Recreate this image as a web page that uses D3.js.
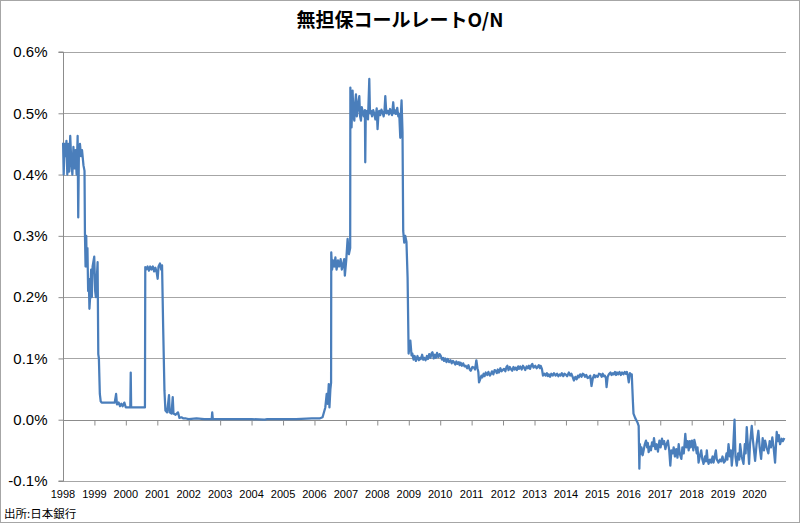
<!DOCTYPE html>
<html><head><meta charset="utf-8">
<script src="https://cdn.jsdelivr.net/npm/d3@7"></script>
<style>
html,body{margin:0;padding:0;background:#fff;}
svg{display:block;}
</style></head>
<body>
<svg id="chart" width="800" height="523"></svg>
<script>
const title = "無担保コールレートO/N";
const sourceNote = "出所:日本銀行";
const yTicks = [-0.1, 0, 0.1, 0.2, 0.3, 0.4, 0.5, 0.6];
const yearLabels = ["1998","1999","2000","2001","2002","2003","2004","2005","2006","2007","2008","2009","2010","2011","2012","2013","2014","2015","2016","2017","2018","2019","2020"];

const dates = [
"1998-01-02","1998-01-09","1998-01-20","1998-02-01","1998-02-10","1998-02-20","1998-03-03","1998-03-15","1998-03-26","1998-04-08","1998-04-20","1998-05-02",
"1998-05-15","1998-05-27","1998-06-08","1998-06-20","1998-06-27","1998-07-05","1998-07-17","1998-07-29","1998-08-10","1998-08-27","1998-09-08","1998-09-13",
"1998-09-20","1998-09-28","1998-10-03","1998-10-12","1998-10-20","1998-10-28","1998-11-04","1998-11-12","1998-11-24","1998-12-02","1998-12-11","1998-12-30",
"1999-01-10","1999-01-18","1999-02-07","1999-02-15","1999-02-22","1999-03-05","1999-03-15","1999-03-26","1999-05-01","1999-07-01","1999-08-25","1999-09-10","1999-09-20","1999-10-10","1999-10-25","1999-11-10","1999-11-25","1999-12-15",
"2000-01-01","2000-02-01","2000-02-22","2000-02-27","2000-03-03","2000-04-15","2000-06-01","2000-07-15","2000-08-10","2000-08-14","2000-08-25","2000-09-10","2000-09-25","2000-10-10","2000-10-25","2000-11-10","2000-11-25","2000-12-10","2000-12-25",
"2001-01-05","2001-01-15","2001-02-01","2001-02-15","2001-02-25","2001-03-10","2001-03-25","2001-04-05","2001-04-25","2001-05-17","2001-05-25","2001-06-15","2001-06-29","2001-07-08","2001-08-01","2001-08-29","2001-09-15","2001-10-08","2001-11-01","2001-12-01",
"2002-01-01","2002-04-01","2002-07-01","2002-09-25","2002-10-01","2002-10-08","2003-03-01","2003-08-01","2004-01-01","2004-06-01","2004-07-01","2005-01-01","2005-06-01","2005-12-01",
"2006-03-01","2006-04-05","2006-05-07","2006-05-23","2006-06-04","2006-06-16","2006-06-24","2006-07-05","2006-07-13","2006-07-15","2006-07-25","2006-08-05","2006-08-20","2006-09-01","2006-09-15","2006-10-01","2006-10-15","2006-11-01","2006-11-15","2006-12-01","2006-12-12","2006-12-20",
"2007-01-05","2007-01-21","2007-02-05","2007-02-20","2007-02-22","2007-03-01","2007-03-08","2007-03-20","2007-03-30","2007-04-09","2007-04-18","2007-04-28","2007-05-08","2007-05-17","2007-05-28","2007-06-06","2007-06-15","2007-06-25","2007-07-05","2007-07-14","2007-07-28","2007-08-10","2007-08-14","2007-08-20","2007-09-03","2007-09-15","2007-09-30","2007-10-08","2007-10-19","2007-11-01","2007-11-15","2007-11-27","2007-12-10","2007-12-25",
"2008-01-04","2008-01-15","2008-01-23","2008-02-05","2008-02-18","2008-03-03","2008-03-15","2008-03-25","2008-04-03","2008-04-15","2008-04-30","2008-05-15","2008-05-28","2008-06-08","2008-06-20","2008-07-04","2008-07-15","2008-07-25","2008-08-05","2008-08-20","2008-09-01","2008-09-12","2008-09-24","2008-10-03","2008-10-09","2008-10-20","2008-10-28","2008-11-09","2008-11-21","2008-12-05","2008-12-18","2008-12-30",
"2009-01-05","2009-01-19","2009-02-02","2009-02-11","2009-02-25","2009-03-10","2009-03-25","2009-04-12","2009-04-28","2009-05-12","2009-05-21","2009-06-05","2009-06-18","2009-06-29","2009-07-15","2009-07-30","2009-08-12","2009-08-26","2009-09-10","2009-09-22","2009-10-03","2009-10-18","2009-11-01","2009-11-11","2009-11-25","2009-12-10","2009-12-25",
"2010-01-08","2010-01-22","2010-02-05","2010-02-15","2010-03-01","2010-03-15","2010-03-30","2010-04-14","2010-05-01","2010-05-15","2010-05-30","2010-06-10","2010-06-25","2010-07-08","2010-07-19","2010-08-05","2010-08-15","2010-08-27","2010-09-10","2010-09-25","2010-10-10","2010-10-25","2010-11-10","2010-11-25","2010-12-10","2010-12-22",
"2011-01-10","2011-01-29","2011-02-10","2011-02-25","2011-03-10","2011-03-20","2011-03-28","2011-04-10","2011-04-25","2011-05-05","2011-05-20","2011-06-01","2011-06-14","2011-07-01","2011-07-15","2011-08-01","2011-08-11","2011-08-25","2011-09-10","2011-09-25","2011-10-08","2011-10-20","2011-11-01","2011-11-15","2011-12-01","2011-12-15",
"2012-01-12","2012-01-28","2012-02-10","2012-02-20","2012-03-05","2012-03-20","2012-04-05","2012-04-17","2012-05-01","2012-05-15","2012-05-26","2012-06-10","2012-06-25","2012-07-04","2012-07-20","2012-08-05","2012-08-20","2012-09-01","2012-09-15","2012-10-01","2012-10-15","2012-10-28","2012-11-10","2012-11-25","2012-12-06","2012-12-20",
"2013-01-10","2013-01-25","2013-02-02","2013-02-20","2013-03-05","2013-03-13","2013-03-28","2013-04-09","2013-04-25","2013-05-10","2013-05-25","2013-06-05","2013-06-17","2013-07-01","2013-07-15","2013-08-01","2013-08-15","2013-09-03","2013-09-20","2013-10-05","2013-10-20","2013-10-31","2013-11-15","2013-12-01","2013-12-15","2013-12-28",
"2014-01-15","2014-02-04","2014-02-20","2014-03-05","2014-03-20","2014-04-03","2014-04-20","2014-05-05","2014-05-20","2014-05-31","2014-06-15","2014-07-01","2014-07-15","2014-07-28","2014-08-10","2014-08-25","2014-09-10","2014-09-24","2014-10-10","2014-10-25","2014-11-10","2014-11-25","2014-12-05","2014-12-18",
"2015-01-05","2015-01-20","2015-02-07","2015-02-20","2015-03-05","2015-03-15","2015-03-29","2015-04-10","2015-04-18","2015-05-01","2015-05-15","2015-06-03","2015-06-15","2015-07-01","2015-07-11","2015-07-25","2015-08-05","2015-08-18","2015-09-01","2015-09-15","2015-10-01","2015-10-15","2015-11-01","2015-11-15","2015-11-30","2015-12-10","2015-12-20",
"2016-01-01","2016-01-15","2016-01-27","2016-02-05","2016-02-12","2016-02-18","2016-02-25","2016-03-15","2016-04-10","2016-04-25","2016-05-03","2016-05-10","2016-05-15","2016-05-28","2016-06-10","2016-06-22","2016-07-05","2016-07-19","2016-08-01","2016-08-10","2016-08-19","2016-09-05","2016-09-15","2016-09-27","2016-10-10","2016-10-20","2016-11-05","2016-11-20","2016-12-05","2016-12-22",
"2017-01-05","2017-01-21","2017-02-05","2017-02-15","2017-03-01","2017-03-15","2017-03-31","2017-04-15","2017-04-28","2017-05-10","2017-05-25","2017-06-06","2017-06-20","2017-07-05","2017-07-20","2017-08-03","2017-08-15","2017-09-03","2017-09-15","2017-10-01","2017-10-10","2017-10-19","2017-11-01","2017-11-15","2017-11-27","2017-12-10","2017-12-20",
"2018-01-04","2018-01-20","2018-02-01","2018-02-12","2018-03-01","2018-03-10","2018-03-22","2018-04-05","2018-04-22","2018-05-05","2018-05-19","2018-06-05","2018-06-15","2018-06-26","2018-07-05","2018-07-16","2018-08-01","2018-08-15","2018-09-01","2018-09-12","2018-09-25","2018-10-09","2018-10-20","2018-11-09","2018-11-25","2018-12-10","2018-12-25",
"2019-01-10","2019-01-26","2019-02-10","2019-02-20","2019-03-05","2019-03-20","2019-04-01","2019-04-12","2019-04-25","2019-05-14","2019-05-25","2019-06-09","2019-06-25","2019-07-08","2019-07-18","2019-08-05","2019-08-26","2019-09-10","2019-09-20","2019-10-03","2019-10-15","2019-10-30","2019-11-10","2019-11-30","2019-12-15",
"2020-01-08","2020-01-25","2020-02-15","2020-03-01","2020-03-18","2020-04-05","2020-04-20","2020-05-03","2020-05-20","2020-06-10","2020-06-25","2020-07-10","2020-07-26","2020-08-10","2020-08-27","2020-09-15","2020-10-01","2020-10-10","2020-10-24","2020-11-12","2020-11-25","2020-12-13"
];
const rates = [
0.452,0.400,0.450,0.430,0.455,0.400,0.450,0.405,0.463,0.420,0.400,0.445,
0.410,0.440,0.400,0.463,0.330,0.440,0.450,0.430,0.440,0.415,0.406,0.303,
0.250,0.300,0.250,0.280,0.210,0.230,0.181,0.200,0.245,0.200,0.250,0.266,
0.210,0.200,0.257,0.107,0.100,0.042,0.030,0.028,0.028,0.028,0.028,0.042,0.025,0.028,0.022,0.026,0.022,0.028,
0.020,0.020,0.020,0.077,0.020,0.020,0.020,0.020,0.020,0.249,0.245,0.250,0.243,0.250,0.245,0.250,0.242,0.248,0.240,
0.230,0.250,0.255,0.245,0.252,0.150,0.047,0.015,0.012,0.040,0.012,0.010,0.037,0.010,0.008,0.012,0.003,0.004,0.002,0.002,
0.001,0.002,0.001,0.001,0.012,0.001,0.001,0.001,0.001,0.000,0.001,0.001,0.001,0.002,
0.002,0.004,0.020,0.042,0.026,0.058,0.020,0.050,0.060,0.273,0.245,0.260,0.250,0.265,0.245,0.260,0.250,0.262,0.245,0.255,0.262,0.235,
0.260,0.295,0.270,0.280,0.542,0.500,0.477,0.537,0.495,0.488,0.515,0.531,0.495,0.504,0.520,0.528,0.495,0.488,0.510,0.504,0.495,0.505,0.420,0.500,0.504,0.490,0.556,0.500,0.504,0.495,0.505,0.499,0.490,0.508,
0.474,0.500,0.504,0.497,0.506,0.501,0.495,0.505,0.528,0.500,0.504,0.498,0.507,0.501,0.497,0.518,0.500,0.505,0.499,0.509,0.495,0.499,0.460,0.505,0.521,0.470,0.308,0.289,0.300,0.290,0.232,0.108,
0.115,0.129,0.105,0.108,0.098,0.104,0.096,0.104,0.097,0.101,0.099,0.106,0.098,0.101,0.097,0.104,0.099,0.107,0.101,0.108,0.110,0.100,0.106,0.101,0.109,0.102,0.107,
0.104,0.098,0.101,0.096,0.100,0.094,0.099,0.094,0.097,0.092,0.096,0.094,0.090,0.095,0.091,0.094,0.089,0.093,0.088,0.092,0.087,0.088,0.084,0.089,0.082,0.080,
0.086,0.085,0.082,0.097,0.084,0.078,0.061,0.066,0.072,0.069,0.075,0.071,0.077,0.073,0.078,0.072,0.074,0.079,0.074,0.081,0.080,0.076,0.082,0.077,0.084,0.079,
0.083,0.079,0.086,0.088,0.081,0.086,0.082,0.080,0.086,0.082,0.085,0.081,0.087,0.083,0.087,0.082,0.088,0.085,0.081,0.087,0.084,0.088,0.083,0.089,0.091,0.085,
0.088,0.084,0.085,0.089,0.084,0.088,0.083,0.072,0.075,0.072,0.076,0.071,0.074,0.070,0.075,0.072,0.076,0.072,0.075,0.071,0.074,0.072,0.076,0.071,0.075,0.074,
0.071,0.077,0.072,0.075,0.070,0.064,0.070,0.066,0.072,0.069,0.074,0.070,0.075,0.074,0.070,0.073,0.068,0.069,0.072,0.055,0.068,0.073,0.069,0.072,
0.070,0.075,0.074,0.070,0.075,0.071,0.072,0.068,0.053,0.070,0.074,0.077,0.073,0.076,0.074,0.078,0.073,0.077,0.074,0.078,0.073,0.077,0.074,0.078,0.075,0.078,0.073,
0.061,0.076,0.074,0.074,0.050,0.030,0.010,0.003,-0.004,-0.010,-0.080,-0.040,-0.056,-0.045,-0.058,-0.050,-0.040,-0.034,-0.045,-0.038,-0.053,-0.044,-0.050,-0.037,-0.043,-0.030,-0.048,-0.040,-0.052,-0.034,
-0.045,-0.031,-0.040,-0.035,-0.048,-0.040,-0.034,-0.050,-0.075,-0.050,-0.055,-0.045,-0.060,-0.048,-0.062,-0.040,-0.055,-0.064,-0.045,-0.055,-0.040,-0.023,-0.045,-0.035,-0.050,-0.035,-0.045,
-0.034,-0.050,-0.033,-0.040,-0.055,-0.045,-0.070,-0.060,-0.050,-0.065,-0.072,-0.060,-0.068,-0.050,-0.065,-0.072,-0.065,-0.070,-0.060,-0.070,-0.060,-0.050,-0.065,-0.070,-0.065,-0.068,-0.060,
-0.070,-0.067,-0.055,-0.065,-0.040,-0.060,-0.050,-0.075,-0.055,0.000,-0.060,-0.075,-0.055,-0.065,-0.040,-0.060,-0.072,-0.040,-0.055,-0.012,-0.040,-0.072,-0.040,-0.010,-0.035,
-0.067,-0.040,-0.018,-0.045,-0.064,-0.030,-0.050,-0.034,-0.045,-0.055,-0.035,-0.045,-0.029,-0.045,-0.070,-0.020,-0.035,-0.025,-0.040,-0.031,-0.035,-0.030
];

const W = 800, H = 523;
const plotL = 63, plotR = 786, plotT = 52, plotB = 481;
const parse = d3.timeParse("%Y-%m-%d");
const n = Math.min(dates.length, rates.length);
const data = dates.slice(0, n).map((d, i) => ({date: parse(d), v: rates[i]}));

const svg = d3.select("#chart");
svg.append("rect").attr("x",0.5).attr("y",0.5).attr("width",W-1).attr("height",H-1)
  .attr("fill","#fff").attr("stroke","#a6a6a6").attr("stroke-width",1);

const x = d3.scaleTime().domain([new Date(1998,0,1), new Date(2021,0,1)]).range([plotL, plotR]);
const y = d3.scaleLinear().domain([-0.1, 0.6]).range([plotB, plotT]);

// gridlines
svg.append("g").selectAll("line").data(yTicks).join("line")
  .attr("x1", plotL).attr("x2", plotR)
  .attr("y1", d => Math.round(y(d)) + 0.5).attr("y2", d => Math.round(y(d)) + 0.5)
  .attr("stroke", "#a6a6a6").attr("stroke-width", 1);

// y axis
const yAxis = d3.axisLeft(y).tickValues(yTicks).tickSize(5).tickPadding(10)
  .tickFormat(d => d.toFixed(1) + "%");
const gy = svg.append("g").attr("transform", `translate(${plotL + 0.5},0)`).call(yAxis);
gy.select(".domain").attr("stroke", "#8c8c8c").attr("d", `M-5,${y(0.6)}H0V${y(-0.1)}H-5`);
gy.selectAll(".tick line").attr("stroke", "#8c8c8c");
gy.selectAll(".tick text").attr("font-family", "'Liberation Sans', Arial, sans-serif")
  .attr("font-size", 15).attr("fill", "#000").attr("dx", -1);

// x axis at zero
const yearTicks = yearLabels.map(s => new Date(+s, 0, 1));
const xAxis = d3.axisBottom(x).tickValues(yearTicks).tickSize(5).tickFormat(() => "");
const gx = svg.append("g").attr("transform", `translate(0,${Math.round(y(0)) + 0.5})`).call(xAxis);
gx.select(".domain").attr("stroke", "#8c8c8c").attr("d", `M${plotL},0H${plotR}`);
gx.selectAll(".tick line").attr("stroke", "#8c8c8c");

// year labels (low position)
svg.append("g").selectAll("text").data(yearLabels).join("text")
  .attr("x", d => x(new Date(+d, 0, 1)))
  .attr("y", 498)
  .attr("text-anchor", "middle")
  .attr("font-family", "'Liberation Sans', Arial, sans-serif")
  .attr("font-size", 11).attr("fill", "#000")
  .text(d => d);

// line
const line = d3.line().x(d => x(d.date)).y(d => y(d.v));
svg.append("path").datum(data).attr("d", line)
  .attr("fill", "none").attr("stroke", "#4a7ebb").attr("stroke-width", 2.25)
  .attr("stroke-linejoin", "round");

// title
svg.append("text").attr("x", 400).attr("y", 27).attr("text-anchor", "middle")
  .attr("font-family", "'Noto Sans CJK JP', sans-serif").attr("font-weight", "bold")
  .attr("font-size", 19).attr("fill", "#000").text(title);

// source
svg.append("text").attr("x", 4).attr("y", 518)
  .attr("font-family", "'Noto Sans CJK JP', sans-serif")
  .attr("font-size", 11.5).attr("fill", "#000").text(sourceNote);
</script>
</body></html>
